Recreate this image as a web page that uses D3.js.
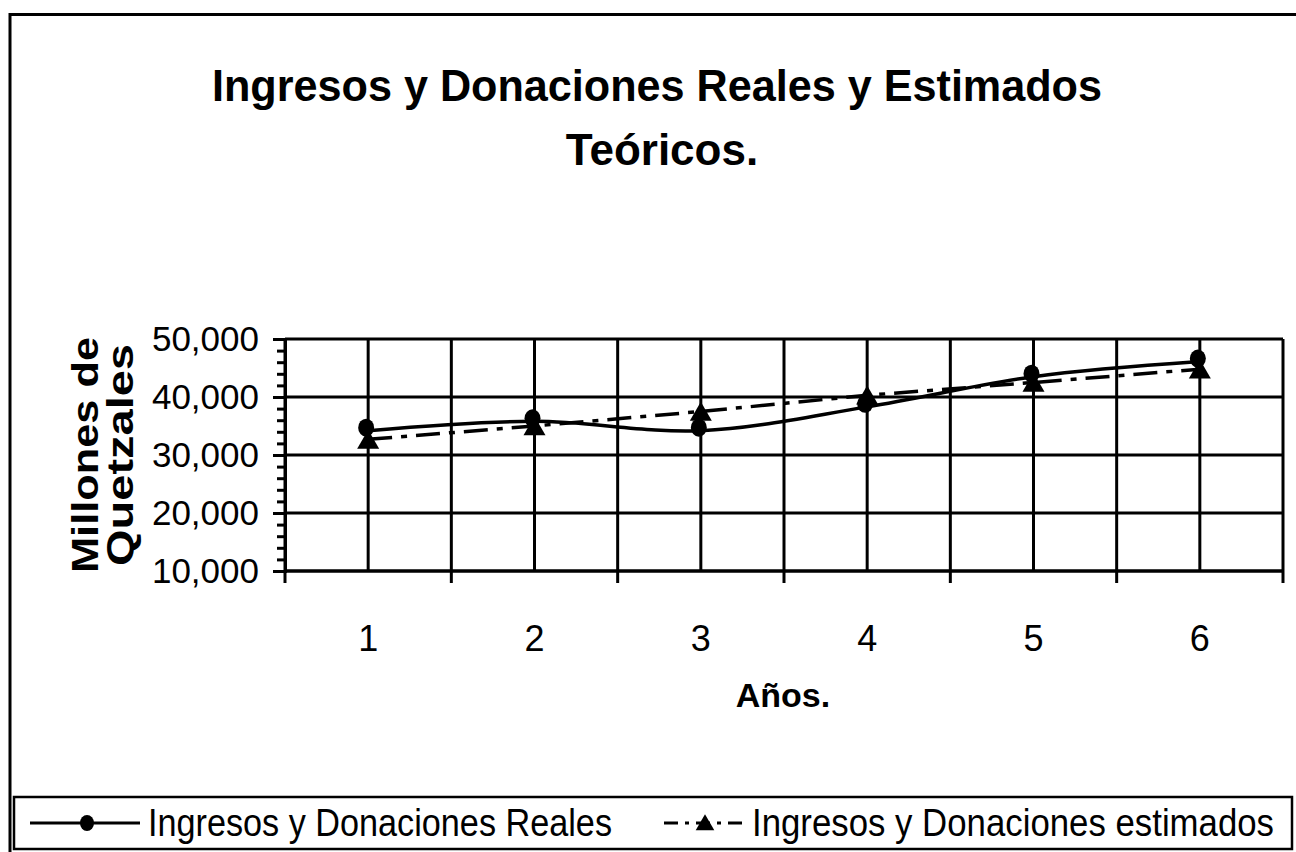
<!DOCTYPE html>
<html>
<head>
<meta charset="utf-8">
<script src="https://cdn.jsdelivr.net/npm/d3@7"></script>
<style>
  body { margin: 0; background: #fff; }
  svg { display: block; font-family: "Liberation Sans", Arial, sans-serif; }
</style>
</head>
<body>
<svg id="chart" width="1296" height="852"></svg>
<script>
// data
const years = [1, 2, 3, 4, 5, 6];
const reales = [34200, 35800, 34200, 38300, 43500, 46100];
const estimados = [32700, 35000, 37500, 40300, 42500, 44800];
const yTicks = [10000, 20000, 30000, 40000, 50000];

const svg = d3.select('#chart');

// outer chart border (runs off right/bottom edge)
svg.append('rect')
    .attr('x', 10).attr('y', 14.5)
    .attr('width', 1300).attr('height', 860)
    .attr('fill', 'none').attr('stroke', '#000').attr('stroke-width', 3);

// title
const title = svg.append('text')
    .attr('text-anchor', 'middle')
    .attr('font-weight', 'bold')
    .attr('font-size', 44);
title.append('tspan').attr('x', 657).attr('y', 101)
    .attr('textLength', 890).attr('lengthAdjust', 'spacingAndGlyphs')
    .text('Ingresos y Donaciones Reales y Estimados');
title.append('tspan').attr('x', 662).attr('y', 165).text('Teóricos.');

const plotL = 285, plotR = 1283, plotT = 339, plotB = 571;

const x = d3.scaleBand().domain(years).range([plotL, plotR]);
const y = d3.scaleLinear().domain([10000, 50000]).range([plotB, plotT]);

const grid = svg.append('g').attr('stroke', '#000').attr('stroke-width', 3);

// horizontal gridlines
grid.selectAll('.hg').data(yTicks).enter().append('line')
    .attr('x1', plotL).attr('x2', plotR)
    .attr('y1', d => y(d)).attr('y2', d => y(d));

// vertical gridlines at category boundaries and centres
const bounds = years.map(d => x(d)).concat([plotR]);
grid.selectAll('.vb').data(bounds).enter().append('line')
    .attr('x1', d => d).attr('x2', d => d)
    .attr('y1', plotT).attr('y2', plotB);
grid.selectAll('.vc').data(years).enter().append('line')
    .attr('x1', d => x(d) + x.bandwidth() / 2).attr('x2', d => x(d) + x.bandwidth() / 2)
    .attr('y1', plotT).attr('y2', plotB);

// y axis: minor ticks then major ticks with labels
const minor = d3.range(10000, 50001, 2000);
const yMinor = svg.append('g')
    .attr('transform', `translate(${plotL},0)`)
    .call(d3.axisLeft(y).tickValues(minor).tickSize(8).tickFormat(''));
yMinor.select('.domain').remove();
yMinor.selectAll('line').attr('stroke-width', 3);

const yAxis = svg.append('g')
    .attr('transform', `translate(${plotL},0)`)
    .call(d3.axisLeft(y).tickValues(yTicks).tickSize(12).tickPadding(14)
        .tickFormat(d3.format(',')));
yAxis.select('.domain').attr('stroke-width', 3);
yAxis.selectAll('line').attr('stroke-width', 3);
yAxis.selectAll('text')
    .attr('font-size', 35)
    .attr('font-family', '"Liberation Sans", Arial, sans-serif')
    .attr('fill', '#000');

// x axis: ticks at boundaries, labels at centres
const xAxis = svg.append('g')
    .attr('transform', `translate(0,${plotB})`);
xAxis.selectAll('line').data(bounds).enter().append('line')
    .attr('x1', d => d).attr('x2', d => d)
    .attr('y1', 0).attr('y2', 12)
    .attr('stroke', '#000').attr('stroke-width', 3);
xAxis.append('line')
    .attr('x1', plotL).attr('x2', plotR)
    .attr('stroke', '#000').attr('stroke-width', 3);
xAxis.selectAll('text').data(years).enter().append('text')
    .attr('x', d => x(d) + x.bandwidth() / 2)
    .attr('y', 80)
    .attr('text-anchor', 'middle')
    .attr('font-size', 36)
    .text(d => d);

// axis titles
svg.append('text')
    .attr('x', 783).attr('y', 707)
    .attr('text-anchor', 'middle')
    .attr('font-weight', 'bold')
    .attr('font-size', 34)
    .text('Años.');

const yt = svg.append('g').attr('font-weight', 'bold').attr('font-size', 37);
yt.append('text')
    .attr('transform', 'translate(98,455) rotate(-90)')
    .attr('text-anchor', 'middle')
    .attr('textLength', 236).attr('lengthAdjust', 'spacingAndGlyphs')
    .text('Millones de');
yt.append('text')
    .attr('transform', 'translate(133,455) rotate(-90)')
    .attr('text-anchor', 'middle')
    .attr('textLength', 222).attr('lengthAdjust', 'spacingAndGlyphs')
    .text('Quetzales');

// series
const cx = d => x(d) + x.bandwidth() / 2;
const lineReal = d3.line()
    .x((d, i) => cx(years[i]))
    .y(d => y(d))
    .curve(d3.curveCatmullRom.alpha(0.5));
const lineEst = d3.line()
    .x((d, i) => cx(years[i]))
    .y(d => y(d));

svg.append('path')
    .datum(estimados)
    .attr('d', lineEst)
    .attr('fill', 'none').attr('stroke', '#000').attr('stroke-width', 3.5)
    .attr('stroke-dasharray', '24,9,6,9');

svg.append('path')
    .datum(reales)
    .attr('d', lineReal)
    .attr('fill', 'none').attr('stroke', '#000').attr('stroke-width', 3.5);

const tri = d3.symbol().type(d3.symbolTriangle).size(210);
svg.selectAll('.tri').data(estimados).enter().append('path')
    .attr('d', tri)
    .attr('transform', (d, i) => `translate(${cx(years[i])},${y(d) + 3})`)
    .attr('fill', '#000');

svg.selectAll('.dot').data(reales).enter().append('ellipse')
    .attr('cx', (d, i) => cx(years[i]) - 2)
    .attr('cy', d => y(d) - 3)
    .attr('rx', 8).attr('ry', 9)
    .attr('fill', '#000');

// legend
const lg = svg.append('g');
lg.append('rect')
    .attr('x', 14).attr('y', 797)
    .attr('width', 1278).attr('height', 52)
    .attr('fill', '#fff').attr('stroke', '#000').attr('stroke-width', 2.5);

lg.append('line')
    .attr('x1', 30).attr('x2', 140).attr('y1', 823).attr('y2', 823)
    .attr('stroke', '#000').attr('stroke-width', 3);
lg.append('ellipse').attr('cx', 87).attr('cy', 823).attr('rx', 7).attr('ry', 8).attr('fill', '#000');
lg.append('text')
    .attr('x', 148).attr('y', 836)
    .attr('font-size', 38)
    .attr('textLength', 464).attr('lengthAdjust', 'spacingAndGlyphs')
    .text('Ingresos y Donaciones Reales');

lg.append('line')
    .attr('x1', 664).attr('x2', 746).attr('y1', 823).attr('y2', 823)
    .attr('stroke', '#000').attr('stroke-width', 3)
    .attr('stroke-dasharray', '14,7,4,7');
lg.append('path')
    .attr('d', d3.symbol().type(d3.symbolTriangle).size(150))
    .attr('transform', 'translate(705,825)')
    .attr('fill', '#000');
lg.append('text')
    .attr('x', 752).attr('y', 836)
    .attr('font-size', 38)
    .attr('textLength', 522).attr('lengthAdjust', 'spacingAndGlyphs')
    .text('Ingresos y Donaciones estimados');
</script>
</body>
</html>
